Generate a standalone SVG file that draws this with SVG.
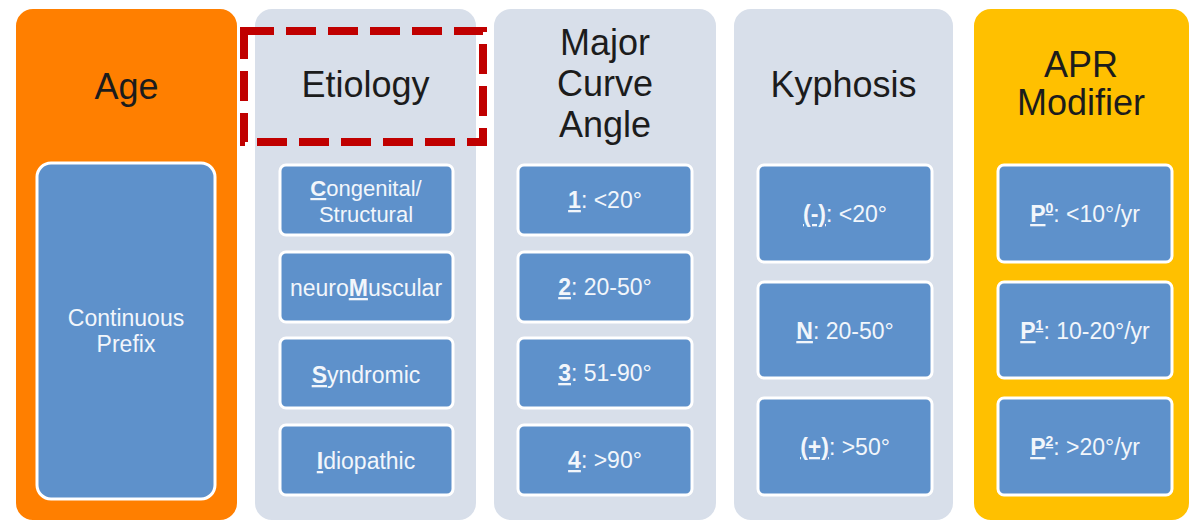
<svg xmlns="http://www.w3.org/2000/svg" width="1192" height="523" viewBox="0 0 1192 523">
<style>
.col{stroke:#ffffff;stroke-width:2}
.grey{fill:#D8DFEA}
.head{font-family:"Liberation Sans",Arial,sans-serif;font-size:36px;fill:#1c1c1c;text-anchor:middle}
.box{fill:#5E91CB;stroke:#ffffff;stroke-width:3}
.t{font-family:"Liberation Sans",Arial,sans-serif;font-size:23px;fill:#F2F6FB;text-anchor:middle}
.t2{font-size:22px}
.k{font-weight:bold;text-decoration:underline}
.sup{font-size:14px}
</style>
<rect width="1192" height="523" fill="#ffffff"/>
<g id="col-age">
<rect class="col" x="15" y="8" width="223" height="513" rx="18" fill="#FF7F00"/>
<text class="head" x="126.5" y="99">Age</text>
<g id="age-prefix">
<rect class="box" x="37" y="163" width="178" height="336" rx="14"/>
<text class="t" x="126" y="326">Continuous</text>
<text class="t" x="126" y="352">Prefix</text>
</g>
</g>
<g id="col-etiology">
<rect class="col grey" x="254" y="8" width="223" height="513" rx="18"/>
<text class="head" x="365.5" y="97">Etiology</text>
<g id="et-c"><rect class="box" x="280" y="165" width="173" height="70" rx="6"/>
<text class="t t2" x="366" y="196"><tspan class="k">C</tspan>ongenital/</text>
<text class="t t2" x="366" y="222">Structural</text></g>
<g id="et-m"><rect class="box" x="280" y="252" width="173" height="70" rx="6"/>
<text class="t" x="366" y="296">neuro<tspan class="k">M</tspan>uscular</text></g>
<g id="et-s"><rect class="box" x="280" y="338" width="173" height="70" rx="6"/>
<text class="t" x="366" y="383"><tspan class="k">S</tspan>yndromic</text></g>
<g id="et-i"><rect class="box" x="280" y="425" width="173" height="70" rx="6"/>
<text class="t" x="366" y="469"><tspan class="k">I</tspan>diopathic</text></g>
</g>
<g id="col-major">
<rect class="col grey" x="493" y="8" width="224" height="513" rx="18"/>
<text class="head" x="605" y="55">Major</text>
<text class="head" x="605" y="96">Curve</text>
<text class="head" x="605" y="137">Angle</text>
<g id="mc-1"><rect class="box" x="518" y="165" width="174" height="70" rx="6"/>
<text class="t" x="605" y="208"><tspan class="k">1</tspan>: &lt;20°</text></g>
<g id="mc-2"><rect class="box" x="518" y="252" width="174" height="70" rx="6"/>
<text class="t" x="605" y="295"><tspan class="k">2</tspan>: 20-50°</text></g>
<g id="mc-3"><rect class="box" x="518" y="338" width="174" height="70" rx="6"/>
<text class="t" x="605" y="381"><tspan class="k">3</tspan>: 51-90°</text></g>
<g id="mc-4"><rect class="box" x="518" y="425" width="174" height="70" rx="6"/>
<text class="t" x="605" y="468"><tspan class="k">4</tspan>: &gt;90°</text></g>
</g>
<g id="col-kyphosis">
<rect class="col grey" x="733" y="8" width="221" height="513" rx="18"/>
<text class="head" x="843.5" y="97">Kyphosis</text>
<g id="ky-minus"><rect class="box" x="758" y="165" width="174" height="97" rx="6"/>
<text class="t" x="845" y="222"><tspan class="k">(-)</tspan>: &lt;20°</text></g>
<g id="ky-n"><rect class="box" x="758" y="282" width="174" height="96" rx="6"/>
<text class="t" x="845" y="339"><tspan class="k">N</tspan>: 20-50°</text></g>
<g id="ky-plus"><rect class="box" x="758" y="398" width="174" height="97" rx="6"/>
<text class="t" x="845" y="455"><tspan class="k">(+)</tspan>: &gt;50°</text></g>
</g>
<g id="col-apr">
<rect class="col" x="973" y="8" width="217" height="513" rx="18" fill="#FFC000"/>
<text class="head" x="1081" y="77">APR</text>
<text class="head" x="1081" y="115">Modifier</text>
<g id="apr-0"><rect class="box" x="998" y="165" width="174" height="97" rx="6"/>
<text class="t" x="1085" y="222"><tspan class="k">P<tspan class="sup" dy="-9">0</tspan></tspan><tspan dy="9">: &lt;10°/yr</tspan></text></g>
<g id="apr-1"><rect class="box" x="998" y="282" width="174" height="96" rx="6"/>
<text class="t" x="1085" y="339"><tspan class="k">P<tspan class="sup" dy="-9">1</tspan></tspan><tspan dy="9">: 10-20°/yr</tspan></text></g>
<g id="apr-2"><rect class="box" x="998" y="398" width="174" height="97" rx="6"/>
<text class="t" x="1085" y="455"><tspan class="k">P<tspan class="sup" dy="-9">2</tspan></tspan><tspan dy="9">: &gt;20°/yr</tspan></text></g>
</g>
<g id="connectors"></g>
<g id="highlight">
<rect x="244" y="31" width="239" height="111" fill="none" stroke="#C00000" stroke-width="8" stroke-dasharray="30 12"/>
</g>
</svg>
